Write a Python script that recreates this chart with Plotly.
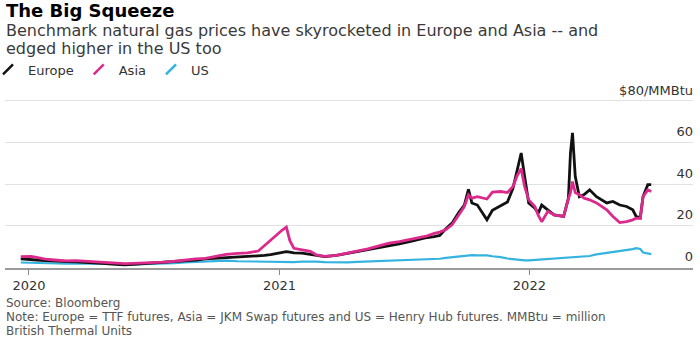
import plotly.graph_objects as go

# ---------------- data ----------------
dates = [
    "2019-12-20", "2020-01-04", "2020-01-12", "2020-01-25", "2020-02-08", "2020-02-25",
    "2020-03-10", "2020-03-25", "2020-04-08", "2020-04-22", "2020-05-06", "2020-05-20",
    "2020-06-01", "2020-06-15", "2020-07-01", "2020-07-15", "2020-08-01", "2020-08-15",
    "2020-09-01", "2020-09-15", "2020-10-01", "2020-10-15", "2020-11-01", "2020-11-15",
    "2020-12-01", "2020-12-10", "2020-12-19", "2020-12-27", "2021-01-05", "2021-01-11",
    "2021-01-16", "2021-01-22", "2021-02-03", "2021-02-15", "2021-02-24", "2021-03-08",
    "2021-03-25", "2021-04-10", "2021-04-25", "2021-05-10", "2021-05-25", "2021-06-10",
    "2021-06-25", "2021-07-10", "2021-07-25", "2021-08-05", "2021-08-15", "2021-08-23",
    "2021-09-01", "2021-09-10", "2021-09-20", "2021-09-28", "2021-10-04", "2021-10-09",
    "2021-10-17", "2021-10-25", "2021-10-31", "2021-11-08", "2021-11-20", "2021-11-30",
    "2021-12-08", "2021-12-14", "2021-12-20", "2021-12-25", "2021-12-31", "2022-01-09",
    "2022-01-14", "2022-01-19", "2022-01-28", "2022-02-06", "2022-02-20", "2022-02-27",
    "2022-03-02", "2022-03-05", "2022-03-09", "2022-03-15", "2022-03-22", "2022-03-30",
    "2022-04-09", "2022-04-24", "2022-05-03", "2022-05-13", "2022-05-23", "2022-06-01",
    "2022-06-06", "2022-06-12", "2022-06-16", "2022-06-23", "2022-06-28",
]

europe = [
    4.1, 4.0, 3.6, 3.3, 3.0, 2.8,
    2.7, 2.5, 2.2, 1.9, 1.5, 1.3,
    1.5, 1.8, 2.0, 2.2, 2.7, 3.1,
    3.6, 4.1, 4.4, 4.6, 5.2, 5.3,
    5.6, 5.8, 6.2, 6.8, 7.2, 7.6,
    7.4, 7.0, 6.9, 6.2, 5.6, 5.2,
    5.8, 6.7, 7.6, 8.4, 9.6, 10.2,
    11.3, 12.4, 13.6, 14.4, 14.8, 15.4,
    18.6, 21.3, 26.5, 30.0, 37.5, 31.0,
    30.0, 26.0, 22.9, 27.5, 29.5, 31.5,
    38.0, 47.0, 55.0, 43.8, 31.0, 28.5,
    26.1, 30.0, 27.7, 25.3, 24.5, 33.3,
    55.0, 64.7, 43.8, 34.0, 35.0, 37.3,
    34.0, 31.0, 31.7, 30.0, 29.3, 27.7,
    24.5, 24.0, 34.0, 39.8, 39.8,
]

asia = [
    5.2, 5.3, 4.8, 4.0, 3.6, 3.2,
    3.3, 3.0, 2.6, 2.2, 2.0, 1.9,
    2.0, 2.1, 2.3, 2.6, 3.0, 3.6,
    4.1, 4.4, 5.3, 6.3, 6.8, 7.0,
    7.9, 10.6, 13.3, 15.7, 18.0, 19.4,
    13.0, 9.2, 8.4, 7.8, 6.0, 5.3,
    5.8, 6.9, 7.9, 8.9, 10.3, 11.7,
    12.4, 13.3, 14.5, 15.2, 16.4, 17.0,
    18.2, 20.5, 25.3, 29.3, 34.9, 33.3,
    34.0, 33.5, 32.9, 36.2, 36.5, 36.0,
    38.9, 44.0, 47.5, 39.0, 32.5, 29.3,
    25.0, 22.0, 27.0, 25.3, 24.5, 33.0,
    36.0, 41.3, 36.0, 35.0, 33.3, 32.5,
    31.0, 27.7, 24.5, 21.6, 22.0, 22.9,
    23.7, 23.5, 34.0, 37.3, 36.5,
]

us = [
    2.4, 2.2, 2.1, 2.0, 1.9, 1.8,
    1.8, 1.7, 1.7, 1.8, 1.8, 1.5,
    1.4, 1.6, 1.7, 1.8, 2.1, 2.4,
    2.6, 2.9, 3.2, 3.3, 3.0, 2.9,
    2.8, 2.8, 2.8, 2.7, 2.7, 2.7,
    2.7, 2.6, 2.8, 3.0, 2.8, 2.6,
    2.5, 2.5, 2.7, 2.9, 2.9, 3.2,
    3.4, 3.7, 3.9, 4.0, 4.0, 4.2,
    4.6, 4.9, 5.2, 5.8, 6.0, 5.9,
    5.8, 6.0, 5.8, 5.4, 5.0, 4.3,
    3.9, 3.6, 3.4, 3.4, 3.4, 3.6,
    3.7, 3.8, 3.9, 4.1, 4.4, 4.5,
    4.6, 4.8, 4.9, 5.0, 5.2, 5.5,
    6.3, 7.0, 7.3, 7.6, 8.2, 8.8,
    9.3, 8.9, 7.2, 6.8, 6.4,
]

series_names = ["Europe", "Asia", "US"]
year_ticks = ["2020-01-01", "2021-01-01", "2022-01-01"]
year_labels = ["2020", "2021", "2022"]
y_ticks = [0, 20, 40, 60, 80]
y_labels = ["0", "20", "40", "60", "$80/MMBtu"]

# ---------------- style ----------------
COLORS = {"Europe": "#111111", "Asia": "#dc2a8c", "US": "#34b3e0"}
WIDTHS = {"Europe": 2.8, "Asia": 2.8, "US": 2.2}
FONT = "DejaVu Sans"

W, H = 700, 341
Y_MIN, Y_MAX = -0.25, 92
ML, MR, MT, MB = 5, 7, 76, 73
PLOT_W = W - ML - MR
PLOT_H = H - MT - MB


def py(px):
    return (H - MB - px) / PLOT_H


def pxx(px):
    return (px - ML) / PLOT_W


fig = go.Figure()

values = {"Europe": europe, "Asia": asia, "US": us}
for name in ["US", "Europe", "Asia"]:
    fig.add_trace(go.Scatter(
        x=dates, y=values[name], mode="lines", name=name,
        line=dict(color=COLORS[name], width=WIDTHS[name]),
        showlegend=False, hoverinfo="skip",
    ))

# legend entries with slash icons
for i, name in enumerate(series_names):
    fig.add_trace(go.Scatter(
        x=[None], y=[None], mode="markers", name=name,
        marker=dict(symbol="line-ne", size=10,
                    line=dict(width=2.5, color=COLORS[name])),
        legendrank=i + 1,
    ))

fig.update_layout(
    width=W, height=H,
    margin=dict(l=ML, r=MR, t=MT, b=MB, pad=0, autoexpand=False),
    paper_bgcolor="white", plot_bgcolor="white",
    font=dict(family=FONT, color="#333333"),
    showlegend=True,
    legend=dict(
        orientation="h", x=pxx(-12), xanchor="left",
        y=py(69.5), yanchor="middle",
        font=dict(size=13, color="#333333", family=FONT),
        bgcolor="rgba(0,0,0,0)", traceorder="normal",
        itemwidth=30,
    ),
    xaxis=dict(
        type="date", range=["2019-11-27", "2022-08-28"],
        tickvals=year_ticks, ticktext=year_labels,
        ticks="outside", ticklen=5, tickcolor="#888888", tickwidth=1,
        showgrid=False, zeroline=False,
        showline=True, linecolor="#9a9a9a", linewidth=1.5,
        tickfont=dict(size=13, color="#333333", family=FONT),
        fixedrange=True, automargin=False,
    ),
    yaxis=dict(
        range=[Y_MIN, Y_MAX], side="right",
        tickvals=y_ticks, ticktext=y_labels,
        ticklabelposition="inside", ticklabelshift=-11, ticklabelstandoff=-3,
        showgrid=True, gridcolor="#e2e2e2", gridwidth=1,
        zeroline=False, showline=False, ticks="",
        tickfont=dict(size=13, color="#333333", family=FONT),
        fixedrange=True, automargin=False,
    ),
    annotations=[
        dict(text="<b>The Big Squeeze</b>", xref="paper", yref="paper",
             x=pxx(4), y=py(10), xanchor="left", yanchor="middle",
             showarrow=False, font=dict(size=18, color="#000000", family=FONT)),
        dict(text="Benchmark natural gas prices have skyrocketed in Europe and Asia -- and",
             xref="paper", yref="paper", x=pxx(4), y=py(30),
             xanchor="left", yanchor="middle", showarrow=False,
             font=dict(size=16, color="#3a3a3a", family=FONT)),
        dict(text="edged higher in the US too",
             xref="paper", yref="paper", x=pxx(4), y=py(48.5),
             xanchor="left", yanchor="middle", showarrow=False,
             font=dict(size=16, color="#3a3a3a", family=FONT)),
        dict(text="Source: Bloomberg",
             xref="paper", yref="paper", x=pxx(4), y=py(302.5),
             xanchor="left", yanchor="middle", showarrow=False,
             font=dict(size=12, color="#555555", family=FONT)),
        dict(text="Note: Europe = TTF futures, Asia = JKM Swap futures and US = Henry Hub futures. MMBtu = million",
             xref="paper", yref="paper", x=pxx(4), y=py(316.5),
             xanchor="left", yanchor="middle", showarrow=False,
             font=dict(size=12, color="#555555", family=FONT)),
        dict(text="British Thermal Units",
             xref="paper", yref="paper", x=pxx(4), y=py(330.5),
             xanchor="left", yanchor="middle", showarrow=False,
             font=dict(size=12, color="#555555", family=FONT)),
    ],
)

fig.write_html("out.html")
